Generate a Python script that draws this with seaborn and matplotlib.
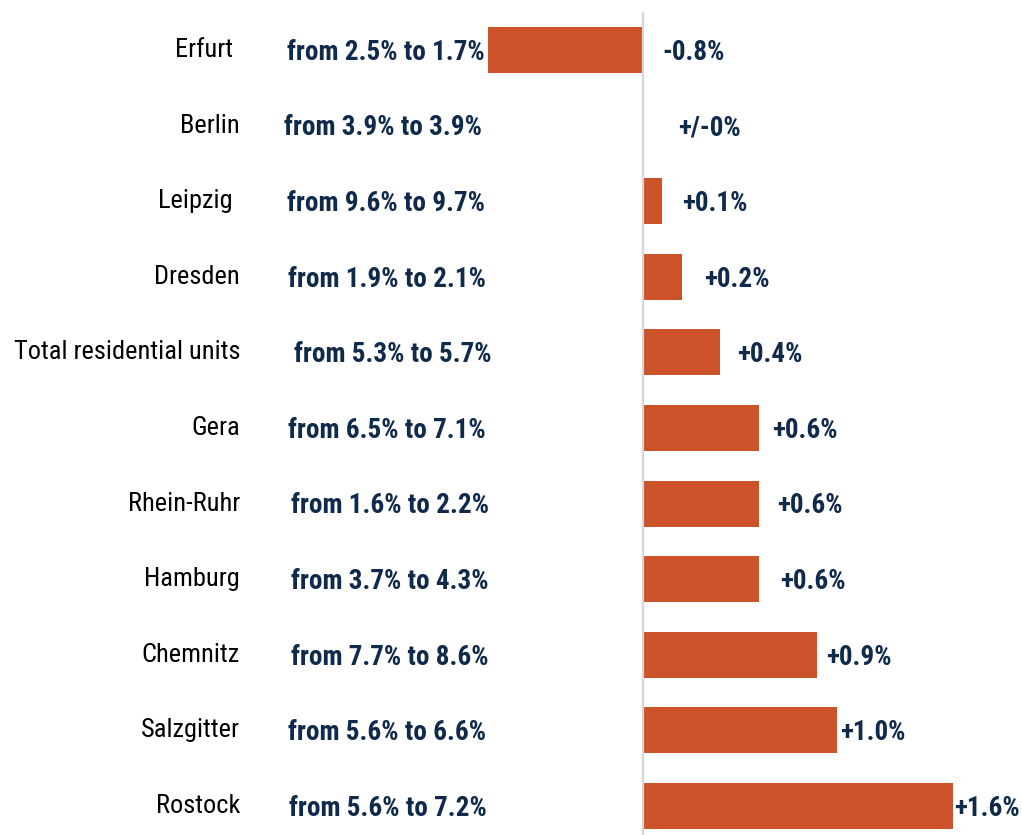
import matplotlib
matplotlib.use("Agg")
import matplotlib.pyplot as plt
import matplotlib.transforms as mtransforms
import seaborn as sns
import pandas as pd

# Change in vacancy rate by market
cities = ["Erfurt", "Berlin", "Leipzig", "Dresden", "Total residential units",
          "Gera", "Rhein-Ruhr", "Hamburg", "Chemnitz", "Salzgitter", "Rostock"]
rate_from = [2.5, 3.9, 9.6, 1.9, 5.3, 6.5, 1.6, 3.7, 7.7, 5.6, 5.6]
rate_to = [1.7, 3.9, 9.7, 2.1, 5.7, 7.1, 2.2, 4.3, 8.6, 6.6, 7.2]
change = [-0.8, 0.0, 0.1, 0.2, 0.4, 0.6, 0.6, 0.6, 0.9, 1.0, 1.6]

df = pd.DataFrame({"city": cities, "change": change})

# label placement (pixels)
name_right = [233, 240, 233, 240, 240, 240, 240, 240, 240, 240, 240]
from_left = [287, 284, 287, 288, 294, 288, 291, 291, 291, 288, 289]
value_gap = [19, 35, 20, 22, 17, 13, 18, 21, 9, 4, 2]

sns.set_theme(style="white")
plt.rcParams["font.family"] = ["Roboto Condensed", "DejaVu Sans"]

BAR = "#CB5229"
NAVY = "#0F2A4A"

W, H = 1022, 835
fig = plt.figure(figsize=(W / 100, H / 100), dpi=100)
ax = fig.add_axes([0, 0, 1, 1])

sns.barplot(data=df, x="change", y="city", orient="h", color=BAR,
            saturation=1, width=0.61, linewidth=0, ax=ax)

# zero at x=643 px, 193.5 px per percentage point
ppu = 193.5
ax.set_xlim(-643 / ppu, (W - 643) / ppu)
step = 75.6
ymax = 10 + (H - 806) / step
ax.set_ylim(ymax, -50 / step)
ax.axis("off")

# zero line
ax.plot([0, 0], [-38 / step, ymax], color="#D6D6D6", lw=1.6, zorder=5,
        solid_capstyle="butt")

fx = mtransforms.blended_transform_factory(fig.transFigure, ax.transData)
for i, (c, a, b, d) in enumerate(zip(cities, rate_from, rate_to, change)):
    ax.text(name_right[i] / W, i, c, transform=fx, ha="right", va="center",
            fontsize=19, color="black")
    ax.text(from_left[i] / W, i + 0.03, f"from {a:.1f}% to {b:.1f}%",
            transform=fx, ha="left", va="center", fontsize=19.5,
            fontweight="bold", color=NAVY)
    if d > 0:
        lab = f"+{d:.1f}%"
    elif d < 0:
        lab = f"{d:.1f}%"
    else:
        lab = "+/-0%"
    xend = max(d, 0) + value_gap[i] / ppu
    ax.text(xend, i + 0.03, lab, ha="left", va="center", fontsize=19.5,
            fontweight="bold", color=NAVY)

fig.savefig("out.png", dpi=100, facecolor="white")
